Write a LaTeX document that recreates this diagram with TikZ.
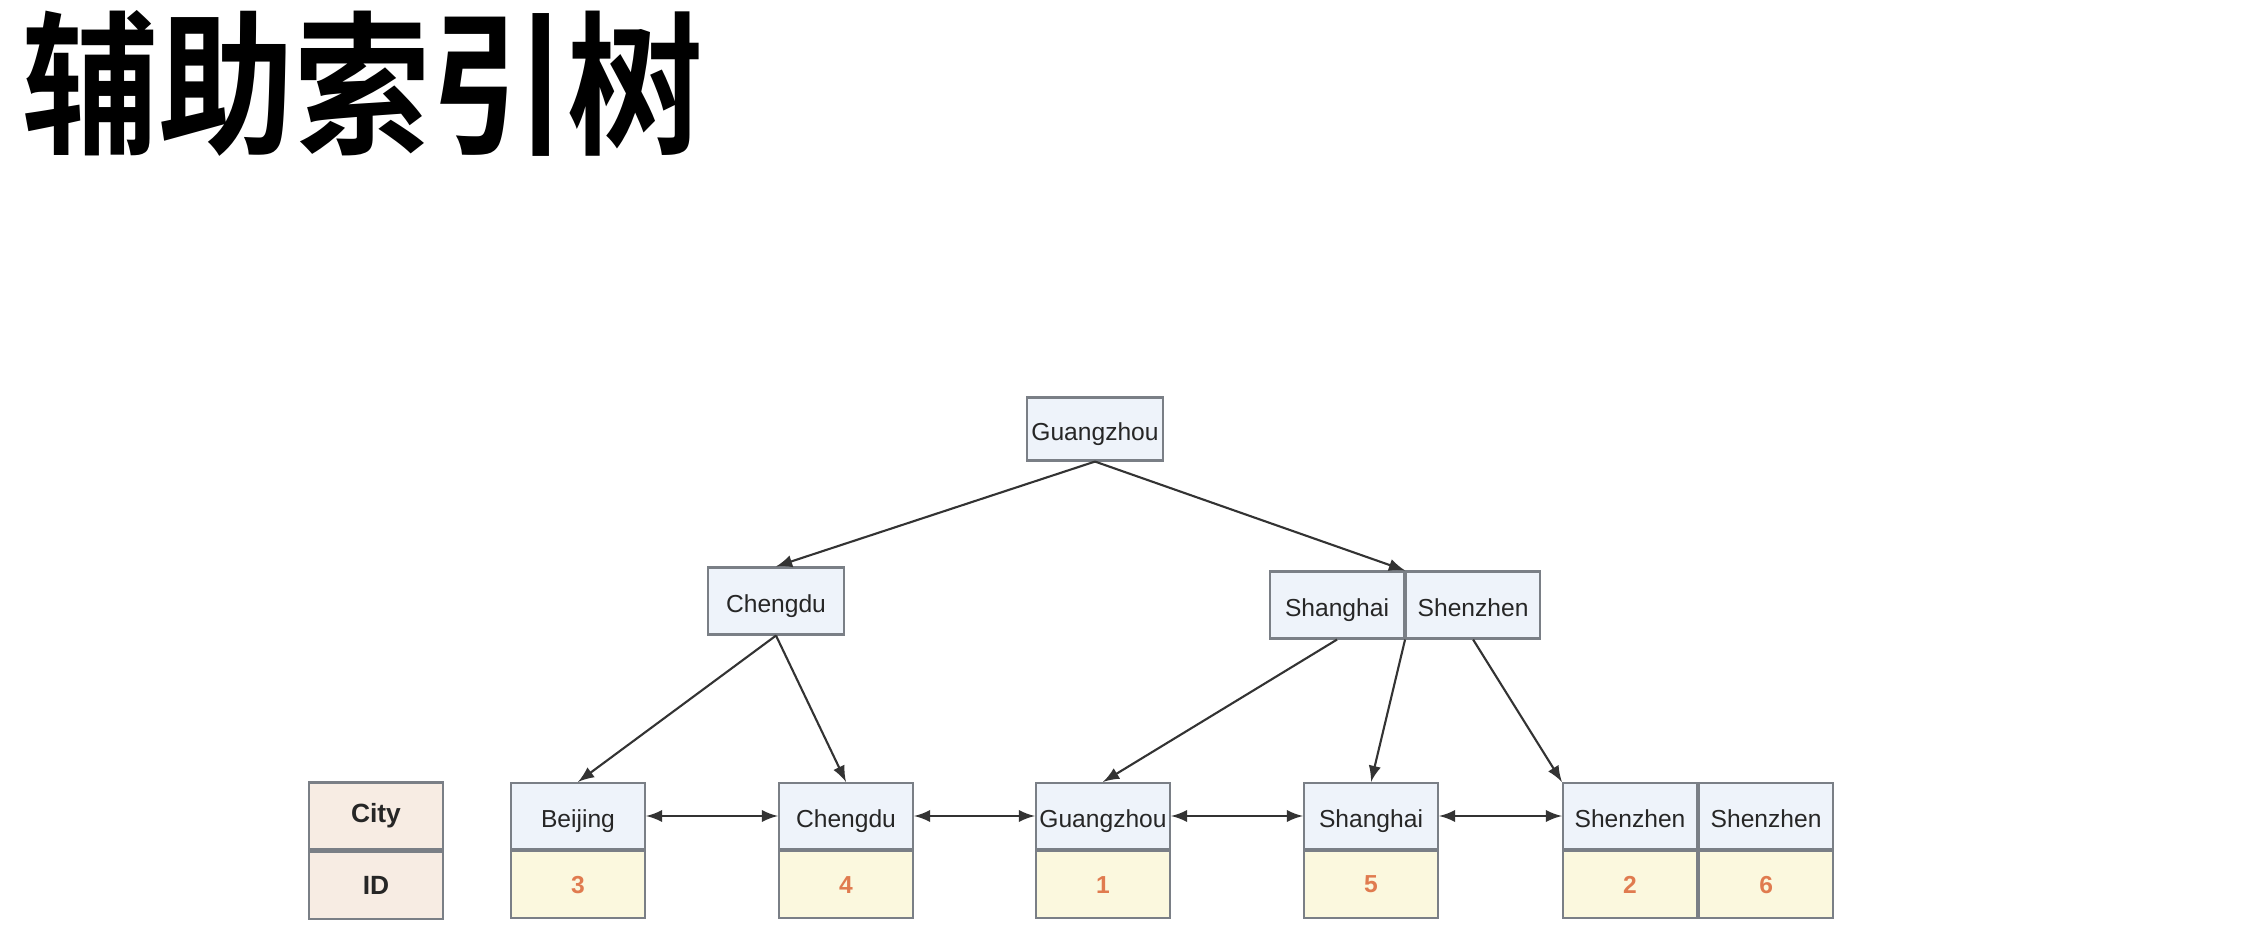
\documentclass[tikz,border=0pt]{standalone}
\usepackage{fontspec}
\setmainfont{Liberation Sans}
\newfontfamily\cjk[FakeStretch=0.88,BoldFont={Noto Sans CJK SC Bold}]{Noto Sans CJK SC}
\usepackage{xcolor}
\usepackage{tikz}
\usetikzlibrary{arrows.meta}
\definecolor{keyblue}{HTML}{EEF3FA}
\definecolor{idyellow}{HTML}{FBF8DE}
\definecolor{legpeach}{HTML}{F7ECE3}
\definecolor{idorange}{HTML}{E07B4F}
\definecolor{framegray}{HTML}{7A7F86}

\begin{document}
\begin{tikzpicture}[
    x=0.1mm, y=-0.1mm,
    every node/.style={font=\fontsize{7}{8}\selectfont, text=black!85},
    keybox/.style={draw=framegray, fill=keyblue, semithick, inner sep=0pt,
        minimum width=13.4mm, minimum height=6.6mm, text height=1.6ex, text depth=0.35ex},
    idbox/.style={draw=framegray, fill=idyellow, semithick, inner sep=0pt,
        minimum width=13.4mm, minimum height=6.7mm, text=idorange,
        font=\fontsize{7}{8}\selectfont\bfseries},
    legbox/.style={draw=framegray, fill=legpeach, semithick, inner sep=0pt,
        minimum width=13.4mm, minimum height=6.7mm,
        font=\fontsize{7.5}{8}\selectfont\bfseries},
    link/.style={draw=black!80, semithick, ->, >=latex},
    pair/.style={draw=black!80, semithick, <->, >=latex}
]
\useasboundingbox (0,0) rectangle (2264,937);

% 标题
\node[anchor=west, inner sep=0pt, font=\cjk\bfseries\fontsize{44}{48}\selectfont, text=black]
    (title) at (22,83) {辅助索引树};

% 根节点
\node[keybox, minimum width=13.6mm, minimum height=6.3mm] (root) at (1095,429) {Guangzhou};

% 中间层
\node[keybox, minimum width=13.6mm, minimum height=6.7mm] (mc) at (776,601) {Chengdu};
\node[keybox, minimum height=6.7mm] (sh) at (1337,605) {Shanghai};
\node[keybox, minimum height=6.7mm, anchor=west] (sz) at (sh.east) {Shenzhen};

% 图例
\node[legbox] (legc) at (376,816) {City};
\node[legbox, anchor=north] (legi) at (legc.south) {ID};

% 叶子节点
\node[keybox] (l1) at (578,816) {Beijing};
\node[idbox, anchor=north] (i1) at (l1.south) {3};
\node[keybox] (l2) at (846,816) {Chengdu};
\node[idbox, anchor=north] (i2) at (l2.south) {4};
\node[keybox] (l3) at (1103,816) {Guangzhou};
\node[idbox, anchor=north] (i3) at (l3.south) {1};
\node[keybox] (l4) at (1371,816) {Shanghai};
\node[idbox, anchor=north] (i4) at (l4.south) {5};
\node[keybox] (l5) at (1630,816) {Shenzhen};
\node[idbox, anchor=north] (i5) at (l5.south) {2};
\node[keybox, anchor=west] (l6) at (l5.east) {Shenzhen};
\node[idbox, anchor=north] (i6) at (l6.south) {6};

% 树的连线
\draw[link] (root.south) -- (mc.north);
\draw[link] (root.south) -- (sh.north east);
\draw[link] (mc.south) -- (l1.north);
\draw[link] (mc.south) -- (l2.north);
\draw[link] (sh.south) -- (l3.north);
\draw[link] (sh.south east) -- (l4.north);
\draw[link] (sz.south) -- (l5.north west);

% 叶子之间的双向链表
\draw[pair] (l1.east) -- (l2.west);
\draw[pair] (l2.east) -- (l3.west);
\draw[pair] (l3.east) -- (l4.west);
\draw[pair] (l4.east) -- (l5.west);

\end{tikzpicture}
\end{document}
